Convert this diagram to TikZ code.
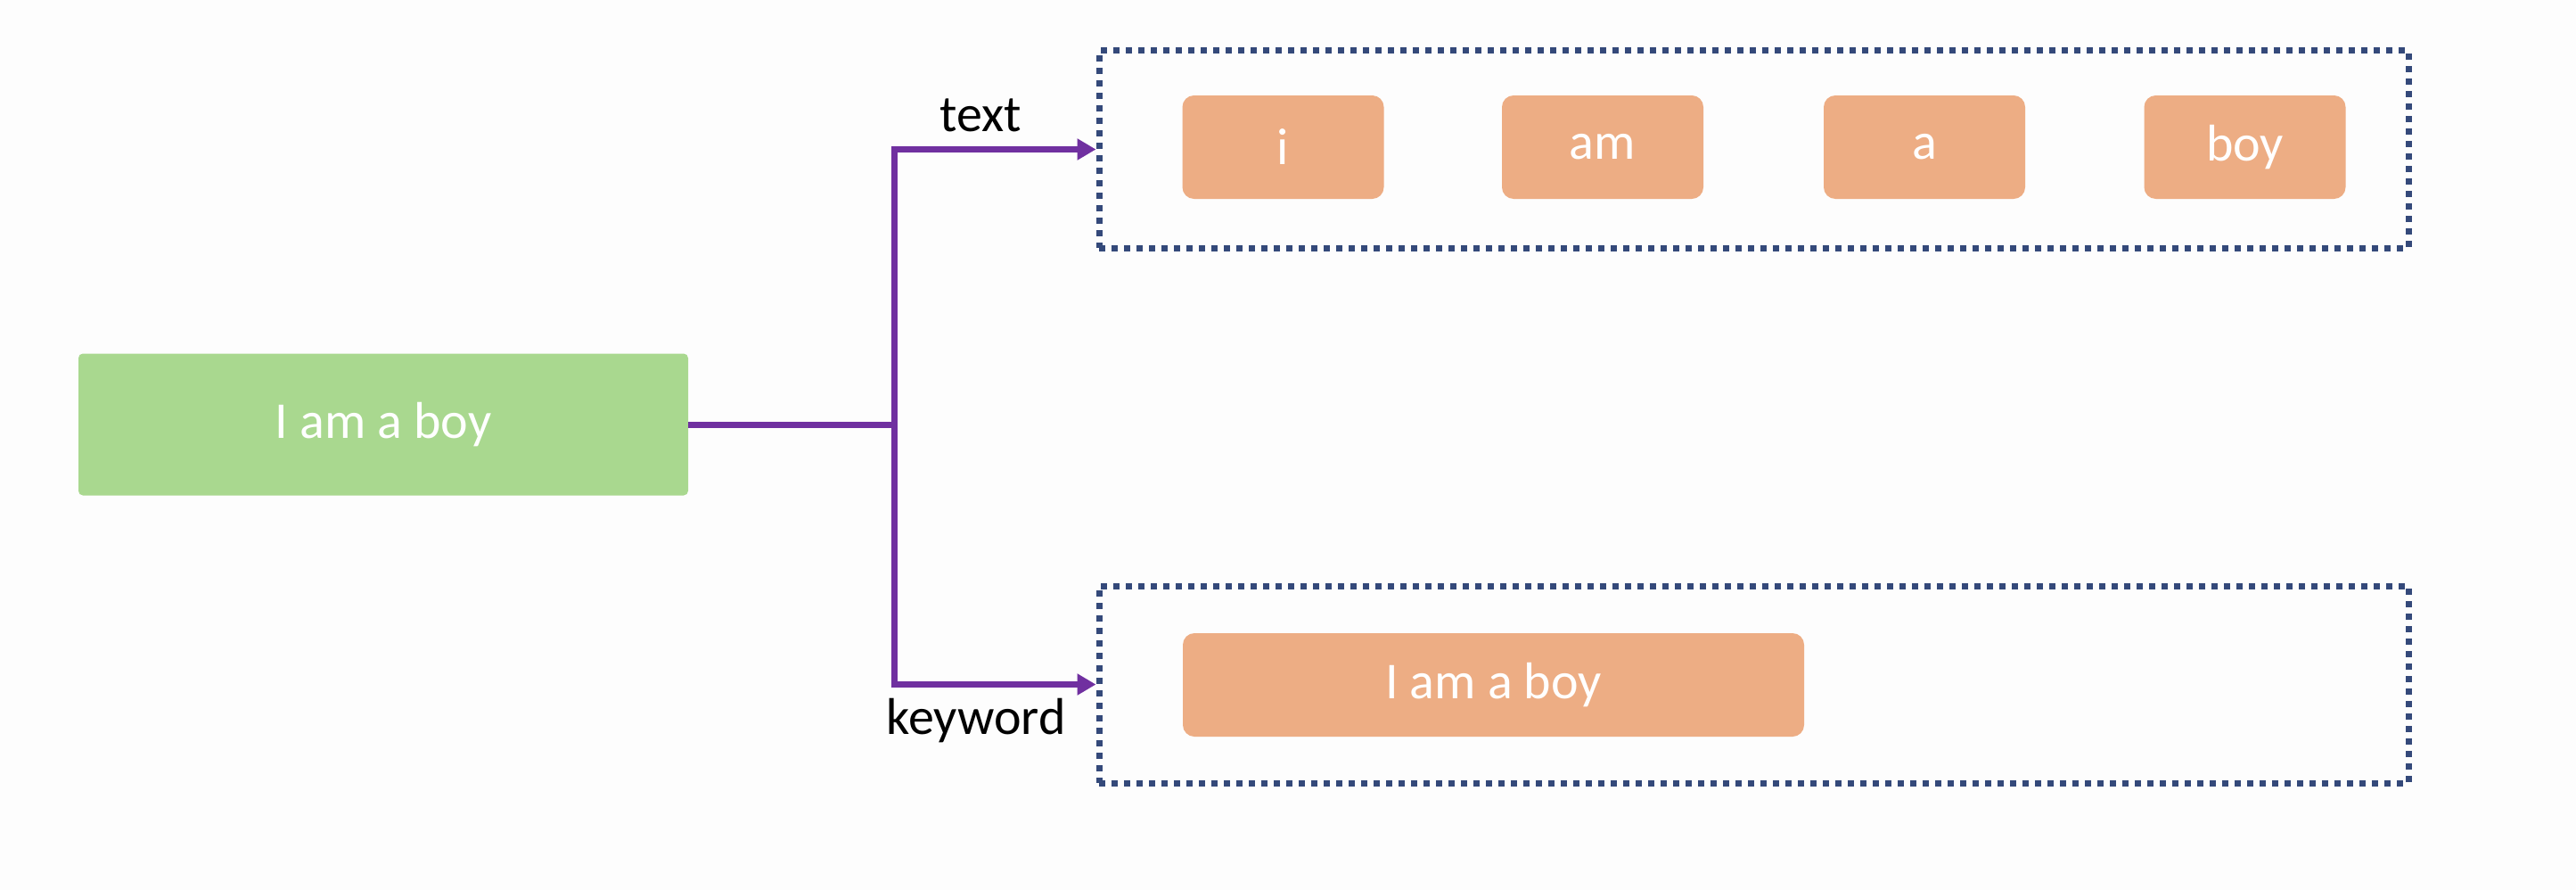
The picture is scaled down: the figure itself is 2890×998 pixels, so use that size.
\documentclass[tikz,border=0pt]{standalone}
\usepackage{fontspec}
\setmainfont{Carlito}
\usetikzlibrary{arrows.meta}
\definecolor{bgc}{HTML}{FDFDFD}
\definecolor{greenbox}{HTML}{A9D88F}
\definecolor{orangebox}{HTML}{EDAD84}
\definecolor{dotblue}{HTML}{34497A}
\definecolor{conpurple}{HTML}{7030A0}
\tikzset{
  bigfont/.style={font=\fontsize{58}{70}\selectfont},
  srcbox/.style={fill=greenbox, draw=none, rounded corners=5pt, minimum width=684pt, minimum height=159pt, inner sep=0pt, text=white, bigfont},
  tokbox/.style={fill=orangebox, draw=none, rounded corners=13pt, minimum width=226pt, minimum height=116pt, inner sep=0pt, text=white, bigfont},
  contbox/.style={draw=dotblue, line width=7pt, dash pattern=on 7pt off 7pt, minimum width=1469pt, minimum height=221pt, inner sep=0pt},
  conn/.style={draw=conpurple, line width=7pt},
  connarrow/.style={conn, -{Triangle[length=21pt,width=23pt]}},
  lbl/.style={text=black, bigfont, inner sep=0pt}
}
\begin{document}
\begin{tikzpicture}[x=1pt,y=-1pt]
\fill[bgc] (0,0) rectangle (2890,998);
\useasboundingbox (0,0) rectangle (2890,998);
\node[srcbox] (src) at (430,476) {I am a boy};
\node[contbox] (tbox) at (1967.5,167.5) {};
\node[contbox] (kbox) at (1967.5,767.5) {};
\node[tokbox] (t1) at (1439.5,165) {\raisebox{-4pt}{i}};
\node[tokbox] (t2) at (1798,165) {\raisebox{-4pt}{am}};
\node[tokbox] (t3) at (2159,165) {\raisebox{-4pt}{a}};
\node[tokbox] (t4) at (2518.5,165) {\raisebox{-4pt}{boy}};
\node[tokbox, minimum width=697pt] (k1) at (1675.5,768) {I am a boy};
\coordinate (j) at (1003,476);
\draw[conn] (src.east) -- (j);
\draw[connarrow] (j) |- (tbox.west);
\draw[connarrow] (j) |- (kbox.west);
\node[lbl] (ltext) at (1100,129) {text};
\node[lbl] (lkey) at (1095,808) {keyword};
\end{tikzpicture}
\end{document}
